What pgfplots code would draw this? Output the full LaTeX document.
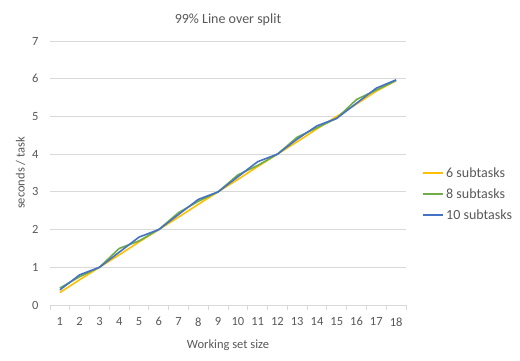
\documentclass[border=0pt]{standalone}
\usepackage{pgfplots}
\pgfplotsset{compat=1.18}
\usepackage{fontspec}
\setmainfont{Carlito}
\definecolor{txtc}{HTML}{595959}
\definecolor{gridc}{HTML}{D9D9D9}
\definecolor{cA}{HTML}{FFC000}
\definecolor{cB}{HTML}{70AD47}
\definecolor{cC}{HTML}{4472C4}
\begin{document}
\begin{tikzpicture}[x=1pt,y=1pt]
\path[fill=white] (0,0) rectangle (520,360);
\begin{axis}[
  at={(50pt,55pt)}, anchor=south west,
  scale only axis, width=356pt, height=264pt,
  xmin=0.5, xmax=18.5, ymin=0, ymax=7,
  xtick={1,...,18}, ytick={0,...,7},
  minor xtick={0.5,1.5,...,18.5},
  xmajorgrids=false, xminorgrids=false,
  ymajorgrids=true,
  grid style={draw=gridc, line width=0.8pt},
  major x tick style={draw=none},
  minor x tick style={draw=gridc, line width=0.8pt},
  y tick style={draw=none},
  minor tick length=5pt,
  major tick length=0pt,
  tick align=outside,
  xtick pos=bottom, ytick pos=left,
  axis line style={draw=none},
  x axis line style={draw=gridc, line width=0.8pt},
  separate axis lines,
  tick label style={font=\fontsize{12.5}{12.5}\selectfont, text=txtc},
  /pgf/number format/assume math mode=true,
  xticklabel style={yshift=-9pt},
  yticklabel style={xshift=-8pt},
  title={99\% Line over split},
  title style={font=\fontsize{14}{14}\selectfont, text=txtc, yshift=6pt},
  xlabel={Working set size},
  ylabel={seconds / task},
  label style={font=\fontsize{12.5}{12.5}\selectfont, text=txtc},
  xlabel style={yshift=-7pt},
  ylabel style={yshift=0pt},
  legend style={at={(1.045,0.42)}, anchor=west, draw=none, fill=none,
    font=\fontsize{14}{14}\selectfont, text=txtc, row sep=6pt, inner sep=0pt},
  legend cell align=left,
  legend image code/.code={\draw[#1, line width=2pt] (0pt,0pt) -- (20pt,0pt);},
  every axis plot/.append style={line width=1.6pt, mark=none},
]
\addplot[color=cA] coordinates {(1,0.33)(2,0.67)(3,1.0)(4,1.33)(5,1.67)(6,2.0)(7,2.33)(8,2.67)(9,3.0)(10,3.33)(11,3.67)(12,4.0)(13,4.33)(14,4.67)(15,5.0)(16,5.33)(17,5.67)(18,5.95)};
\addlegendentry{6 subtasks}
\addplot[color=cB] coordinates {(1,0.45)(2,0.75)(3,1.0)(4,1.5)(5,1.7)(6,2.0)(7,2.45)(8,2.75)(9,3.0)(10,3.45)(11,3.7)(12,4.0)(13,4.45)(14,4.7)(15,4.95)(16,5.45)(17,5.7)(18,5.95)};
\addlegendentry{8 subtasks}
\addplot[color=cC] coordinates {(1,0.4)(2,0.8)(3,1.0)(4,1.4)(5,1.8)(6,2.0)(7,2.4)(8,2.8)(9,3.0)(10,3.4)(11,3.8)(12,4.0)(13,4.4)(14,4.75)(15,4.95)(16,5.35)(17,5.75)(18,5.97)};
\addlegendentry{10 subtasks}
\end{axis}
\end{tikzpicture}
\end{document}
